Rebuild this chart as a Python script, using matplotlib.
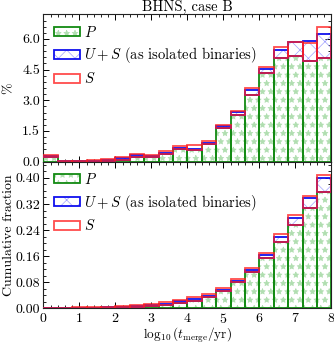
import numpy as np
import matplotlib
matplotlib.use('Agg')
import matplotlib.pyplot as plt
from matplotlib.patches import Patch
from matplotlib.ticker import MultipleLocator, FormatStrFormatter

plt.rcParams['font.family'] = 'serif'
plt.rcParams['font.serif'] = ['cmr10', 'DejaVu Serif']
plt.rcParams['mathtext.fontset'] = 'cm'
plt.rcParams['axes.formatter.use_mathtext'] = True
plt.rcParams['font.size'] = 10.5
plt.rcParams['hatch.linewidth'] = 0.5

# bin edges of log10(t_merge/yr)
bin_edges = [0.0, 0.4, 0.8, 1.2, 1.6, 2.0, 2.4, 2.8, 3.2, 3.6, 4.0,
             4.4, 4.8, 5.2, 5.6, 6.0, 6.4, 6.8, 7.2, 7.6, 8.0]

# percent per bin
p_pct = [0.22, 0.0, 0.0, 0.0, 0.03, 0.10, 0.24, 0.22, 0.36, 0.59,
         0.57, 0.87, 1.65, 2.30, 3.28, 4.32, 5.07, 5.15, 4.92, 5.07]
us_pct = [0.27, 0.01, 0.01, 0.02, 0.08, 0.15, 0.30, 0.27, 0.40, 0.67,
          0.60, 0.93, 1.74, 2.41, 3.50, 4.53, 5.46, 5.83, 5.88, 6.24]
s_pct = [0.33, 0.01, 0.01, 0.06, 0.14, 0.21, 0.37, 0.33, 0.50, 0.74,
         0.82, 1.00, 1.79, 2.47, 3.58, 4.61, 5.60, 5.85, 5.80, 6.57]

# cumulative fraction
p_cum = [0.002, 0.002, 0.002, 0.002, 0.003, 0.004, 0.006, 0.008, 0.012, 0.018,
         0.024, 0.035, 0.053, 0.080, 0.112, 0.156, 0.205, 0.256, 0.307, 0.358]
us_cum = [0.003, 0.003, 0.003, 0.003, 0.004, 0.005, 0.008, 0.011, 0.015, 0.022,
          0.028, 0.038, 0.057, 0.085, 0.117, 0.163, 0.220, 0.277, 0.337, 0.399]
s_cum = [0.003, 0.003, 0.004, 0.004, 0.006, 0.008, 0.012, 0.015, 0.020, 0.027,
         0.035, 0.045, 0.063, 0.090, 0.124, 0.170, 0.227, 0.285, 0.344, 0.409]

GREEN = '#138a13'
GREEN_HATCH = '#b0deb0'
BLUE = '#1010ee'
BLUE_HATCH = '#a0a0ff'
RED = '#ff2020'

edges = np.array(bin_edges)
left = edges[:-1]
width = np.diff(edges)


def draw_panel(ax, p, us, s):
    p = np.array(p)
    us = np.array(us)
    s = np.array(s)
    lw = 1.3
    # P: hatch layer and edge layer
    ax.bar(left, p, width=width, align='edge', facecolor='white',
           edgecolor=GREEN_HATCH, linewidth=0, hatch='**', zorder=2)
    ax.bar(left, p, width=width, align='edge', facecolor='none',
           edgecolor=GREEN, linewidth=lw, zorder=3)
    # U+S on top of P
    ax.bar(left, us - p, bottom=p, width=width, align='edge', facecolor='none',
           edgecolor=BLUE_HATCH, linewidth=0, hatch='xx', zorder=2)
    ax.bar(left, us - p, bottom=p, width=width, align='edge', facecolor='none',
           edgecolor=BLUE, linewidth=lw, zorder=3)
    # S outline
    ax.bar(left, s - p, bottom=p, width=width, align='edge', facecolor='none',
           edgecolor=RED, linewidth=lw, alpha=0.8, zorder=4)

    ax.set_xlim(0, 8)
    ax.tick_params(which='both', direction='in', top=True, right=True,
                   pad=2.5, labelsize=10)
    ax.tick_params(which='major', length=4, width=0.7)
    ax.tick_params(which='minor', length=2, width=0.6)
    ax.xaxis.set_major_locator(MultipleLocator(1))
    ax.xaxis.set_minor_locator(MultipleLocator(0.2))
    for sp in ax.spines.values():
        sp.set_linewidth(0.8)
        sp.set_color('#222222')

    h_p = (Patch(facecolor='white', edgecolor=GREEN_HATCH, linewidth=0, hatch='**'),
           Patch(facecolor='none', edgecolor=GREEN, linewidth=lw))
    h_us = (Patch(facecolor='white', edgecolor=BLUE_HATCH, linewidth=0, hatch='xx'),
            Patch(facecolor='none', edgecolor=BLUE, linewidth=lw))
    h_s = Patch(facecolor='white', edgecolor=RED, linewidth=lw, alpha=0.8)
    ax.legend([h_p, h_us, h_s],
              [r'$P$', r'$U+S$ (as isolated binaries)', r'$S$'],
              loc='upper left', frameon=False, handlelength=1.8,
              handleheight=0.55, handletextpad=0.25, labelspacing=0.4,
              borderaxespad=0.3, fontsize=10.5)


fig = plt.figure(figsize=(3.34, 3.43), dpi=100)
ax1 = fig.add_axes([0.130, 0.529, 0.8625, 0.429])
ax2 = fig.add_axes([0.130, 0.1006, 0.8625, 0.4284])

draw_panel(ax1, p_pct, us_pct, s_pct)
draw_panel(ax2, p_cum, us_cum, s_cum)

ax1.set_ylim(0, 7.2)
ax1.yaxis.set_major_locator(MultipleLocator(1.5))
ax1.yaxis.set_minor_locator(MultipleLocator(0.3))
ax1.yaxis.set_major_formatter(FormatStrFormatter('%.1f'))
ax1.set_xticklabels([])
ax1.set_ylabel('%', fontsize=10)
ax1.yaxis.set_label_coords(-0.1, 0.5)
ax1.set_title('BHNS, case B', fontsize=10.5, pad=2)

ax2.set_ylim(0, 0.45)
ax2.yaxis.set_major_locator(MultipleLocator(0.08))
ax2.yaxis.set_minor_locator(MultipleLocator(0.02))
ax2.yaxis.set_major_formatter(FormatStrFormatter('%.2f'))
ax2.set_ylabel('Cumulative fraction', fontsize=10)
ax2.yaxis.set_label_coords(-0.1, 0.5)
ax2.set_xlabel(r'$\log_{10}(t_{\rm merge}/{\rm yr})$', fontsize=9.5)
ax2.xaxis.set_label_coords(0.5, -0.115)

fig.savefig('out.png', dpi=100)
